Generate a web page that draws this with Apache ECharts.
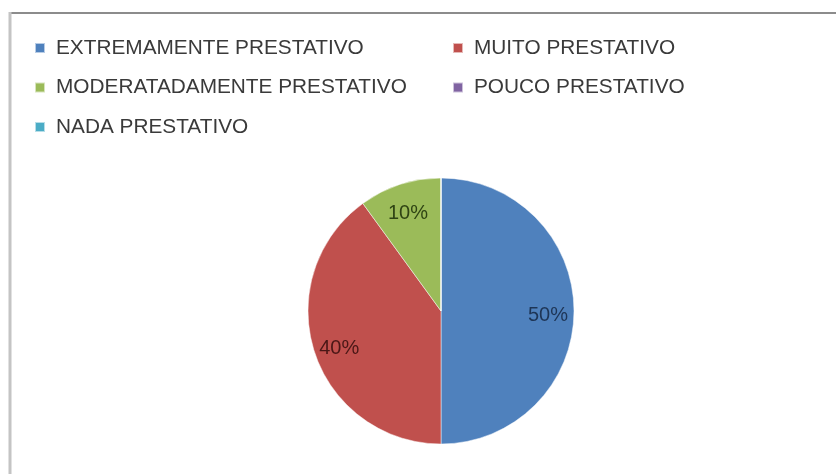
<!DOCTYPE html>
<html>
<head>
<meta charset="utf-8">
<script src="https://cdn.jsdelivr.net/npm/echarts@6/dist/echarts.min.js"></script>
<style>
  html, body { margin: 0; padding: 0; background: #ffffff; }
  #chart { width: 836px; height: 474px; }
</style>
</head>
<body>
<div id="chart"></div>
<script>
// Categories and their shares (percent)
var categories = [
  'EXTREMAMENTE PRESTATIVO',
  'MUITO PRESTATIVO',
  'MODERATADAMENTE PRESTATIVO',
  'POUCO PRESTATIVO',
  'NADA PRESTATIVO'
];
var shares = [50, 40, 10, 0, 0];

// Slice fills and the darker tint used for each slice's label
var sliceColors = ['#4f81bd', '#c0504d', '#9bbb59', '#8064a2', '#4bacc6'];
var labelColors = ['#1e3556', '#4a1716', '#2f4414', '#2e2140', '#1b4450'];

// Legend is laid out in two columns: even positions left, odd positions right
var legendLeftCol = categories.filter(function (c, i) { return i % 2 === 0; });
var legendRightCol = categories.filter(function (c, i) { return i % 2 === 1; });

var pieData = categories.map(function (name, i) {
  return { name: name, value: shares[i] };
});

var labelData = categories.map(function (name, i) {
  return {
    name: name,
    value: shares[i],
    label: { color: labelColors[i] }
  };
});

var legendText = {
  fontFamily: 'Liberation Sans, Arial, sans-serif',
  fontSize: 20.8,
  color: '#3a3a3a',
  lineHeight: 22,
  padding: [0, 0, 0, 6]
};

function legendColumn(left, names) {
  return {
    left: left,
    top: 32,
    orient: 'vertical',
    icon: 'rect',
    itemWidth: 10,
    itemHeight: 10,
    itemGap: 17.5,
    selectedMode: false,
    data: names,
    textStyle: legendText
  };
}

var chart = echarts.init(document.getElementById('chart'));

chart.setOption({
  animation: false,
  color: sliceColors,
  graphic: [
    // frame: darker top edge, lighter left edge
    { type: 'line', shape: { x1: 9, y1: 13, x2: 836, y2: 13 },
      style: { stroke: '#8c8c8c', lineWidth: 2 } },
    { type: 'line', shape: { x1: 10, y1: 12, x2: 10, y2: 474 },
      style: { stroke: '#c4c4c4', lineWidth: 3 } }
  ],
  legend: [
    legendColumn(29, legendLeftCol),
    legendColumn(447, legendRightCol)
  ],
  series: [
    {
      type: 'pie',
      center: [441, 311],
      radius: 133,
      startAngle: 90,
      clockwise: true,
      silent: true,
      data: pieData,
      itemStyle: { borderColor: 'rgba(255,255,255,0.6)', borderWidth: 0.8 },
      label: { show: false },
      labelLine: { show: false }
    },
    {
      // transparent twin ring that places the percent labels at ~78% of the radius
      type: 'pie',
      center: [441, 311],
      radius: 208,
      startAngle: 90,
      clockwise: true,
      silent: true,
      legendHoverLink: false,
      data: labelData,
      itemStyle: { color: 'rgba(0,0,0,0)', borderWidth: 0 },
      label: {
        show: true,
        position: 'inside',
        offset: [0, 4],
        fontFamily: 'Liberation Sans, Arial, sans-serif',
        fontSize: 20,
        formatter: function (p) {
          return p.value > 0 ? p.value + '%' : '';
        }
      },
      labelLine: { show: false }
    }
  ]
});
</script>
</body>
</html>
